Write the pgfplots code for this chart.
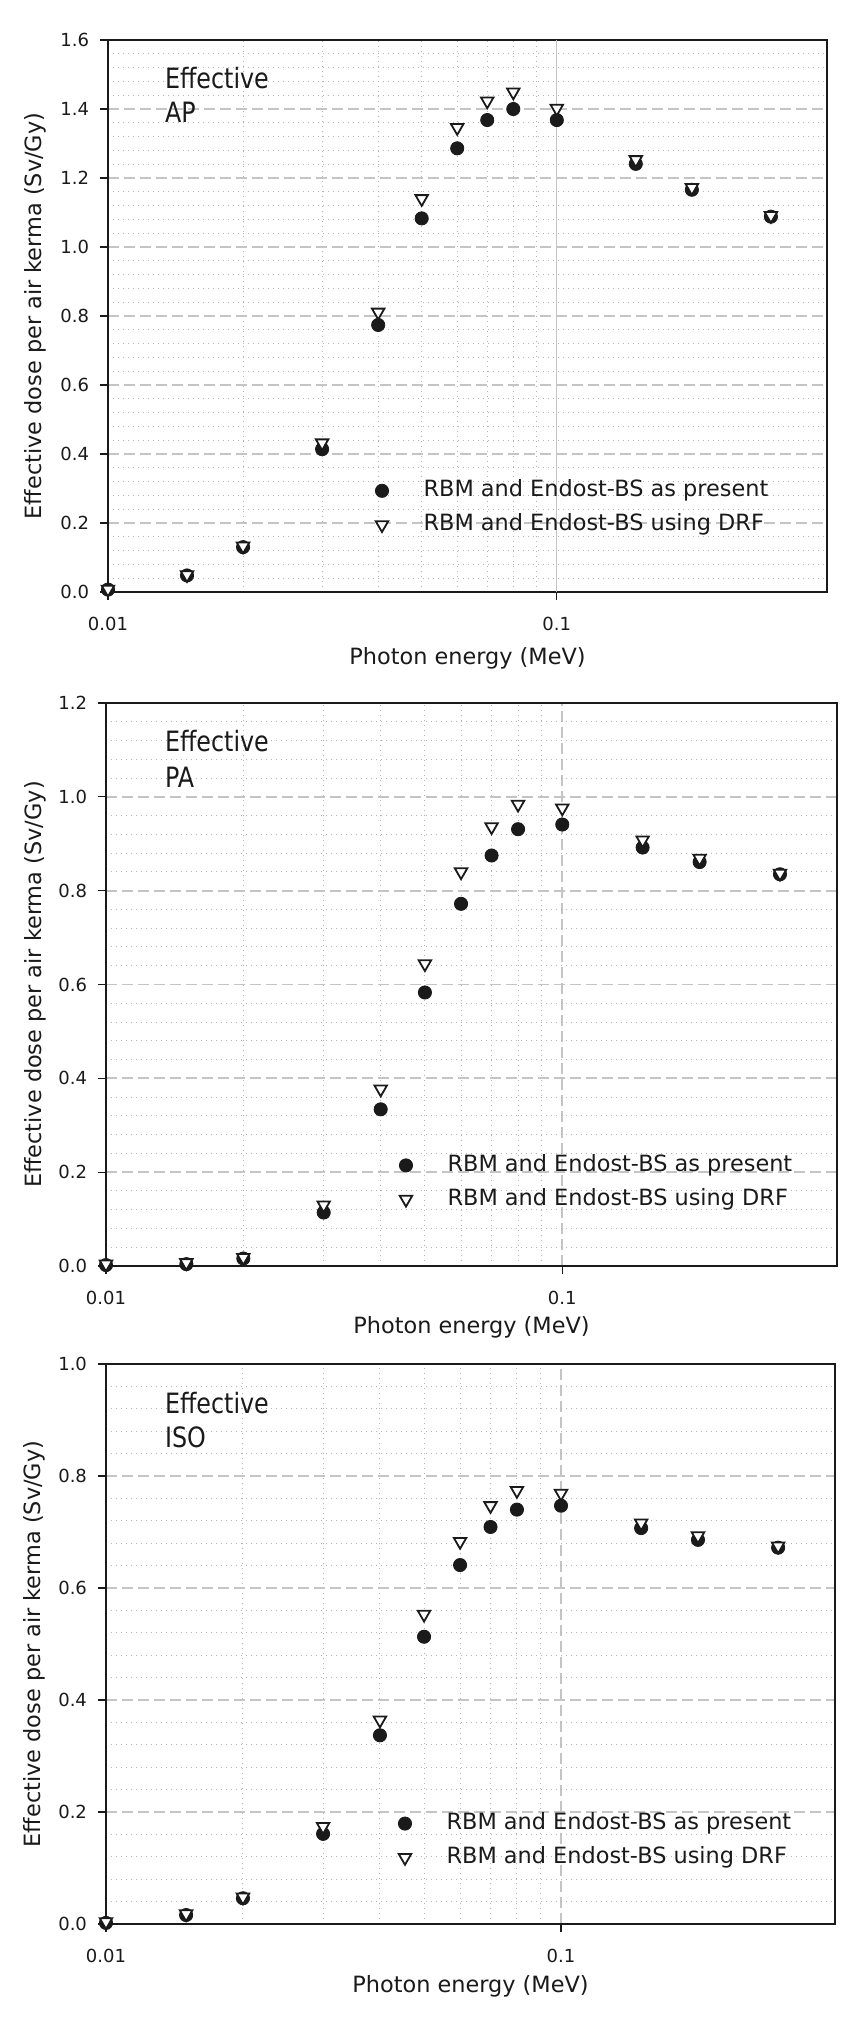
\documentclass[border=0pt]{standalone}
\usepackage{fontspec}
\setmainfont{DejaVu Sans}
\newfontfamily\annfont[FakeStretch=0.85]{DejaVu Sans}
\usepackage{pgfplots}
\usepackage{pgfplotstable}
\pgfplotsset{compat=1.18}

\definecolor{markblack}{HTML}{1A1A1A}
\definecolor{majgrid}{HTML}{C4C4C4}
\definecolor{mingrid}{HTML}{B4B4B4}

% Effective dose per air kerma (Sv/Gy) against photon energy (MeV)
\pgfplotstableread{
E     present drf
0.010 0.007   0.008
0.015 0.048   0.050
0.020 0.130   0.133
0.030 0.414   0.432
0.040 0.774   0.811
0.050 1.083   1.140
0.060 1.286   1.346
0.070 1.368   1.423
0.080 1.400   1.449
0.100 1.368   1.402
0.150 1.241   1.253
0.200 1.166   1.172
0.300 1.088   1.091
}\tabAP

\pgfplotstableread{
E     present drf
0.010 0.002   0.004
0.015 0.004   0.007
0.020 0.016   0.018
0.030 0.114   0.130
0.040 0.334   0.377
0.050 0.583   0.644
0.060 0.772   0.840
0.070 0.875   0.936
0.080 0.931   0.984
0.100 0.941   0.976
0.150 0.892   0.908
0.200 0.861   0.869
0.300 0.835   0.837
}\tabPA

\pgfplotstableread{
E     present drf
0.010 0.002   0.004
0.015 0.016   0.018
0.020 0.046   0.048
0.030 0.161   0.174
0.040 0.337   0.364
0.050 0.513   0.553
0.060 0.641   0.683
0.070 0.709   0.747
0.080 0.740   0.774
0.100 0.747   0.769
0.150 0.707   0.716
0.200 0.686   0.693
0.300 0.672   0.675
}\tabISO

% shared look of the three panels
\pgfplotsset{
  every axis/.append style={
    scale only axis,
    xmin=0.01, xmax=0.4, ymin=0,
    xtick={0.01,0.1}, xticklabels={0.01,0.1},
    minor y tick num=4,
    xmajorgrids=true, ymajorgrids=true,
    xminorgrids=true, yminorgrids=true,
    major grid style={color=majgrid, line width=0.9pt, dash pattern=on 5.5pt off 2.5pt},
    minor grid style={color=mingrid, line width=0.5pt, dash pattern=on 0.6pt off 1.9pt},
    axis line style={line width=0.8pt, color=markblack},
    tick style={color=markblack, line width=0.6pt},
    major tick length=4pt, minor tick length=0pt,
    tick align=outside, xtick pos=bottom, ytick pos=left,
    tick label style={font=\fontsize{9}{11}\selectfont, text=markblack},
    yticklabel style={xshift=-2pt},
    xticklabel style={yshift=-5pt},
    label style={font=\fontsize{11.2}{13}\selectfont, text=markblack},
    xlabel={Photon energy (MeV)},
    ylabel={Effective dose per air kerma (Sv/Gy)},
    clip=false,
    legend cell align=left,
    legend style={draw=none, fill=none, anchor=west,
      font=\fontsize{11.2}{13}\selectfont, text=markblack,
      row sep=2pt,
      nodes={text height=8.5pt, text depth=2.5pt},
      /tikz/every odd column/.append style={column sep=15.5pt}},
  },
}

\newcommand\panellabel[3]{%
  \node[anchor=base west, font=\annfont\fontsize{14}{17}\selectfont, text=markblack]
    at (rel axis cs:#1,#2) {#3};}

\begin{document}
\begin{tikzpicture}
\useasboundingbox (0pt,0pt) rectangle (427pt,-1010pt);

% AP: the 0.1 MeV line is a thin solid one here
\begin{semilogxaxis}[
  at={(54pt,-296pt)}, anchor=south west,
  width=359.5pt, height=276pt,
  xmajorgrids=false,
  extra x ticks={0.1}, extra x tick labels={},
  extra x tick style={xmajorgrids=true, major tick length=0pt,
    major grid style={color=majgrid, line width=0.4pt, solid}},
  ymax=1.6, ytick={0,0.2,0.4,0.6,0.8,1.0,1.2,1.4,1.6},
  yticklabels={0.0,0.2,0.4,0.6,0.8,1.0,1.2,1.4,1.6},
  ylabel style={at={(axis description cs:-0.093,0.5)}, anchor=base},
  xlabel style={at={(axis description cs:0.5,-0.1322)}, anchor=base},
  legend style={at={(0.363,0.1525)}}]
\addplot[only marks, mark=*, mark size=3.3pt, mark options={fill=markblack, draw=markblack}]
  table[x=E, y=present] {\tabAP};
\addplot[only marks, mark=triangle*, mark size=3.6pt,
  mark options={rotate=180, fill=white, draw=markblack, line width=0.9pt}]
  table[x=E, y=drf] {\tabAP};
\legend{RBM and Endost-BS as present, RBM and Endost-BS using DRF}
\panellabel{0.0695}{0.913}{Effective}
\panellabel{0.0695}{0.8514}{AP}
\end{semilogxaxis}

% PA
\begin{semilogxaxis}[
  at={(53pt,-633pt)}, anchor=south west,
  width=365.5pt, height=281.5pt,
  ymax=1.2, ytick={0,0.2,0.4,0.6,0.8,1.0,1.2},
  yticklabels={0.0,0.2,0.4,0.6,0.8,1.0,1.2},
  ylabel style={at={(axis description cs:-0.0889,0.5)}, anchor=base},
  xlabel style={at={(axis description cs:0.5,-0.119)}, anchor=base},
  legend style={at={(0.3926,0.1485)}}]
\addplot[only marks, mark=*, mark size=3.3pt, mark options={fill=markblack, draw=markblack}]
  table[x=E, y=present] {\tabPA};
\addplot[only marks, mark=triangle*, mark size=3.6pt,
  mark options={rotate=180, fill=white, draw=markblack, line width=0.9pt}]
  table[x=E, y=drf] {\tabPA};
\legend{RBM and Endost-BS as present, RBM and Endost-BS using DRF}
\panellabel{0.0711}{0.913}{Effective}
\panellabel{0.0711}{0.8508}{PA}
\end{semilogxaxis}

% ISO
\begin{semilogxaxis}[
  at={(53pt,-962pt)}, anchor=south west,
  width=364.5pt, height=280pt,
  ymax=1.0, ytick={0,0.2,0.4,0.6,0.8,1.0},
  yticklabels={0.0,0.2,0.4,0.6,0.8,1.0},
  ylabel style={at={(axis description cs:-0.0892,0.5)}, anchor=base},
  xlabel style={at={(axis description cs:0.5,-0.1214)}, anchor=base},
  legend style={at={(0.3923,0.149)}}]
\addplot[only marks, mark=*, mark size=3.3pt, mark options={fill=markblack, draw=markblack}]
  table[x=E, y=present] {\tabISO};
\addplot[only marks, mark=triangle*, mark size=3.6pt,
  mark options={rotate=180, fill=white, draw=markblack, line width=0.9pt}]
  table[x=E, y=drf] {\tabISO};
\legend{RBM and Endost-BS as present, RBM and Endost-BS using DRF}
\panellabel{0.0713}{0.9125}{Effective}
\panellabel{0.0713}{0.8518}{ISO}
\end{semilogxaxis}
\end{tikzpicture}
\end{document}
